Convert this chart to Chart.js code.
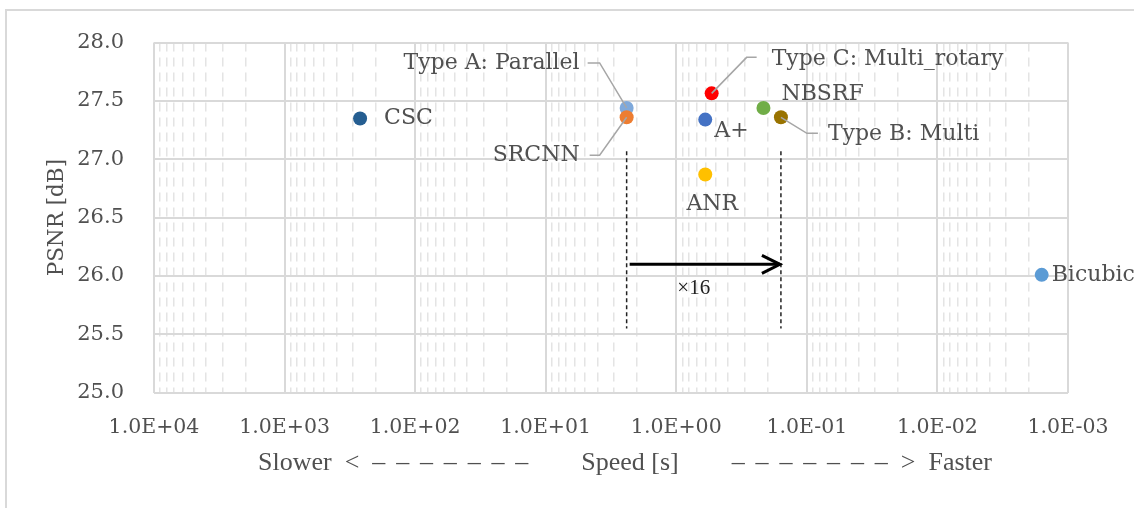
<!DOCTYPE html>
<html>
<head>
<meta charset="utf-8">
<script src="https://cdn.jsdelivr.net/npm/chart.js@4/dist/chart.umd.min.js"></script>
<style>
  html, body { margin: 0; padding: 0; background: #ffffff; }
  #wrap { width: 1134px; height: 508px; position: relative; }
</style>
</head>
<body>
<div id="wrap"><canvas id="c" width="1134" height="508"></canvas></div>
<script>
// Super-resolution methods: processing time [s] vs. PSNR [dB]
const methods = ['CSC', 'Type A: Parallel', 'SRCNN', 'A+', 'ANR',
                 'Type C: Multi_rotary', 'NBSRF', 'Type B: Multi', 'Bicubic'];
const speeds  = [264, 2.4, 2.4, 0.60, 0.60, 0.536, 0.215, 0.158, 0.00159];
const psnr    = [27.35, 27.44, 27.36, 27.34, 26.87, 27.565, 27.44, 27.36, 26.01];
const pointColors = ['#255e91', '#7fa9db', '#ed7d31', '#4472c4', '#ffc000',
                     '#ff0000', '#70ad47', '#997300', '#5b9bd5'];

const xTickLabels = ['1.0E+04', '1.0E+03', '1.0E+02', '1.0E+01',
                     '1.0E+00', '1.0E-01', '1.0E-02', '1.0E-03'];
const yTickLabels = ['25.0', '25.5', '26.0', '26.5', '27.0', '27.5', '28.0'];

// Speed-up marker between Type A and Type B
const guideSpeeds = [2.4, 0.158];
const guidePsnr   = [25.55, 27.07];
const arrowPsnr   = 26.10;
const arrowLabel  = '×16';

// x-axis caption in three pieces: slower side, unit, faster side
const DASHES = Array(7).fill('–').join(' \u200A\u200A');
const xTitleParts = ['Slower\u2002<\u2002' + DASHES, 'Speed [s]', DASHES + '\u2002>\u2002Faster'];
const yTitle = 'PSNR [dB]';

const TEXT = '#505050';
const LABEL_FONT = '22px "DejaVu Serif"';

// where each method's name sits relative to its marker
const labelLayout = {
  'CSC':                  { dx: 24,  dy: 0,   align: 'left' },
  'Type A: Parallel':     { dx: -47, dy: -45, align: 'right',  leader: [[-39, -45], [-27, -45]] },
  'SRCNN':                { dx: -47, dy: 38,  align: 'right',  leader: [[-37, 38], [-27, 38]] },
  'A+':                   { dx: 9,   dy: 12,  align: 'left' },
  'ANR':                  { dx: 7,   dy: 30,  align: 'center' },
  'Type C: Multi_rotary': { dx: 60,  dy: -34, align: 'left',   leader: [[45, -36], [35, -36]] },
  'NBSRF':                { dx: 18,  dy: -14, align: 'left' },
  'Type B: Multi':        { dx: 47,  dy: 17,  align: 'left',   leader: [[37, 16], [26, 16]] },
  'Bicubic':              { dx: 10,  dy: 0,   align: 'left' }
};

const xMajor = xTickLabels.map(Number);
const isMajorX = v => xMajor.some(m => Math.abs(Math.log10(m) - Math.log10(v)) < 1e-6);

const framePlugin = {
  id: 'frame',
  beforeDraw(chart) {
    const ctx = chart.ctx;
    ctx.save();
    ctx.fillStyle = '#ffffff';
    ctx.fillRect(0, 0, chart.width, chart.height);
    ctx.strokeStyle = '#d9d9d9';
    ctx.lineWidth = 2;
    ctx.strokeRect(6, 10, 1300, 700);
    ctx.restore();
  }
};

const xCaptionPlugin = {
  id: 'xCaption',
  afterDraw(chart) {
    const ctx = chart.ctx;
    const y = 463;
    ctx.save();
    ctx.fillStyle = TEXT;
    ctx.font = '26px "Liberation Serif"';
    ctx.textBaseline = 'middle';
    ctx.textAlign = 'left';
    ctx.fillText(xTitleParts[0], 258, y);
    ctx.textAlign = 'center';
    ctx.fillText(xTitleParts[1], 630, y);
    ctx.textAlign = 'right';
    ctx.fillText(xTitleParts[2], 992, y);
    ctx.restore();
  }
};

const annotationPlugin = {
  id: 'speedup',
  afterDatasetsDraw(chart) {
    const ctx = chart.ctx;
    const xs = chart.scales.x, ys = chart.scales.y;
    const x0 = xs.getPixelForValue(guideSpeeds[0]);
    const x1 = xs.getPixelForValue(guideSpeeds[1]);
    const yTop = ys.getPixelForValue(guidePsnr[1]);
    const yBot = ys.getPixelForValue(guidePsnr[0]);
    ctx.save();
    // dashed guides
    ctx.strokeStyle = '#222222';
    ctx.lineWidth = 1.5;
    ctx.setLineDash([4, 3]);
    [x0, x1].forEach(x => {
      ctx.beginPath();
      ctx.moveTo(x, yTop);
      ctx.lineTo(x, yBot);
      ctx.stroke();
    });
    ctx.setLineDash([]);
    // arrow
    const ya = ys.getPixelForValue(arrowPsnr);
    ctx.strokeStyle = '#000000';
    ctx.lineWidth = 3;
    ctx.beginPath();
    ctx.moveTo(x0 + 3, ya);
    ctx.lineTo(x1 - 1, ya);
    ctx.stroke();
    ctx.beginPath();
    ctx.moveTo(x1 - 19, ya - 9);
    ctx.lineTo(x1 - 1, ya);
    ctx.lineTo(x1 - 19, ya + 9);
    ctx.stroke();
    ctx.fillStyle = '#222222';
    ctx.font = '21px "Liberation Serif"';
    ctx.textAlign = 'center';
    ctx.textBaseline = 'middle';
    ctx.fillText(arrowLabel, (x0 + x1) / 2 - 10, ya + 24);
    ctx.restore();
  }
};

const labelPlugin = {
  id: 'pointLabels',
  afterDatasetsDraw(chart) {
    const ctx = chart.ctx;
    const meta = chart.getDatasetMeta(0);
    ctx.save();
    methods.forEach((name, i) => {
      const pt = meta.data[i];
      const lay = labelLayout[name];
      if (!pt || !lay) return;
      if (lay.leader) {
        ctx.strokeStyle = '#a6a6a6';
        ctx.lineWidth = 1.5;
        ctx.beginPath();
        ctx.moveTo(pt.x + lay.leader[0][0], pt.y + lay.leader[0][1]);
        for (let k = 1; k < lay.leader.length; k++) {
          ctx.lineTo(pt.x + lay.leader[k][0], pt.y + lay.leader[k][1]);
        }
        ctx.lineTo(pt.x, pt.y);
        ctx.stroke();
      }
      ctx.fillStyle = TEXT;
      ctx.font = LABEL_FONT;
      ctx.textAlign = lay.align;
      ctx.textBaseline = 'middle';
      ctx.fillText(name, pt.x + lay.dx, pt.y + lay.dy);
    });
    ctx.restore();
  }
};

new Chart(document.getElementById('c'), {
  type: 'scatter',
  data: {
    datasets: [{
      data: speeds.map((s, i) => ({ x: s, y: psnr[i] })),
      backgroundColor: pointColors,
      borderColor: pointColors,
      borderWidth: 0,
      pointRadius: 7,
      pointHoverRadius: 7
    }]
  },
  options: {
    responsive: false,
    animation: false,
    devicePixelRatio: 1,
    events: [],
    layout: { padding: { left: 0, top: 40.7, right: 66, bottom: 0 } },
    plugins: { legend: { display: false }, tooltip: { enabled: false } },
    scales: {
      x: {
        type: 'logarithmic',
        reverse: true,
        min: 1e-3,
        max: 1e4,
        afterBuildTicks(scale) {
          const ticks = [];
          xMajor.forEach(m => {
            ticks.push({ value: m, major: true });
            if (m < 1e4) {
              for (let k = 2; k <= 9; k++) ticks.push({ value: k * m, major: false });
            }
          });
          scale.ticks = ticks;
        },
        afterFit(scale) { scale.height = 115.3; },
        ticks: {
          autoSkip: false,
          minRotation: 0,
          maxRotation: 0,
          padding: 22.7,
          color: TEXT,
          font: { family: 'DejaVu Serif', size: 20.5 },
          callback(v) {
            const k = xMajor.findIndex(m => Math.abs(Math.log10(m) - Math.log10(v)) < 1e-6);
            return k >= 0 ? xTickLabels[k] : '';
          }
        },
        grid: {
          drawTicks: false,
          color: c => (c.tick && !isMajorX(c.tick.value)) ? '#e4e4e4' : '#d9d9d9',
          lineWidth: c => (c.tick && !isMajorX(c.tick.value)) ? 1.5 : 2
        },
        border: {
          display: false,
          dash: c => (c.tick && !isMajorX(c.tick.value)) ? [9, 6] : []
        },
        title: { display: false }
      },
      y: {
        min: 25,
        max: 28,
        afterBuildTicks(scale) {
          scale.ticks = yTickLabels.map(l => ({ value: Number(l) }));
        },
        afterFit(scale) { scale.width = 154; },
        ticks: {
          padding: 30,
          color: TEXT,
          font: { family: 'DejaVu Serif', size: 21 },
          callback(v) {
            const l = yTickLabels.find(t => Math.abs(Number(t) - v) < 1e-9);
            return l === undefined ? '' : l;
          }
        },
        grid: { drawTicks: false, color: '#d9d9d9', lineWidth: 2 },
        border: { display: false },
        title: {
          display: true,
          text: yTitle,
          color: TEXT,
          font: { family: 'DejaVu Serif', size: 21.5 },
          padding: { top: 44.1, bottom: 0 }
        }
      }
    }
  },
  plugins: [framePlugin, annotationPlugin, labelPlugin, xCaptionPlugin]
});
</script>
</body>
</html>
